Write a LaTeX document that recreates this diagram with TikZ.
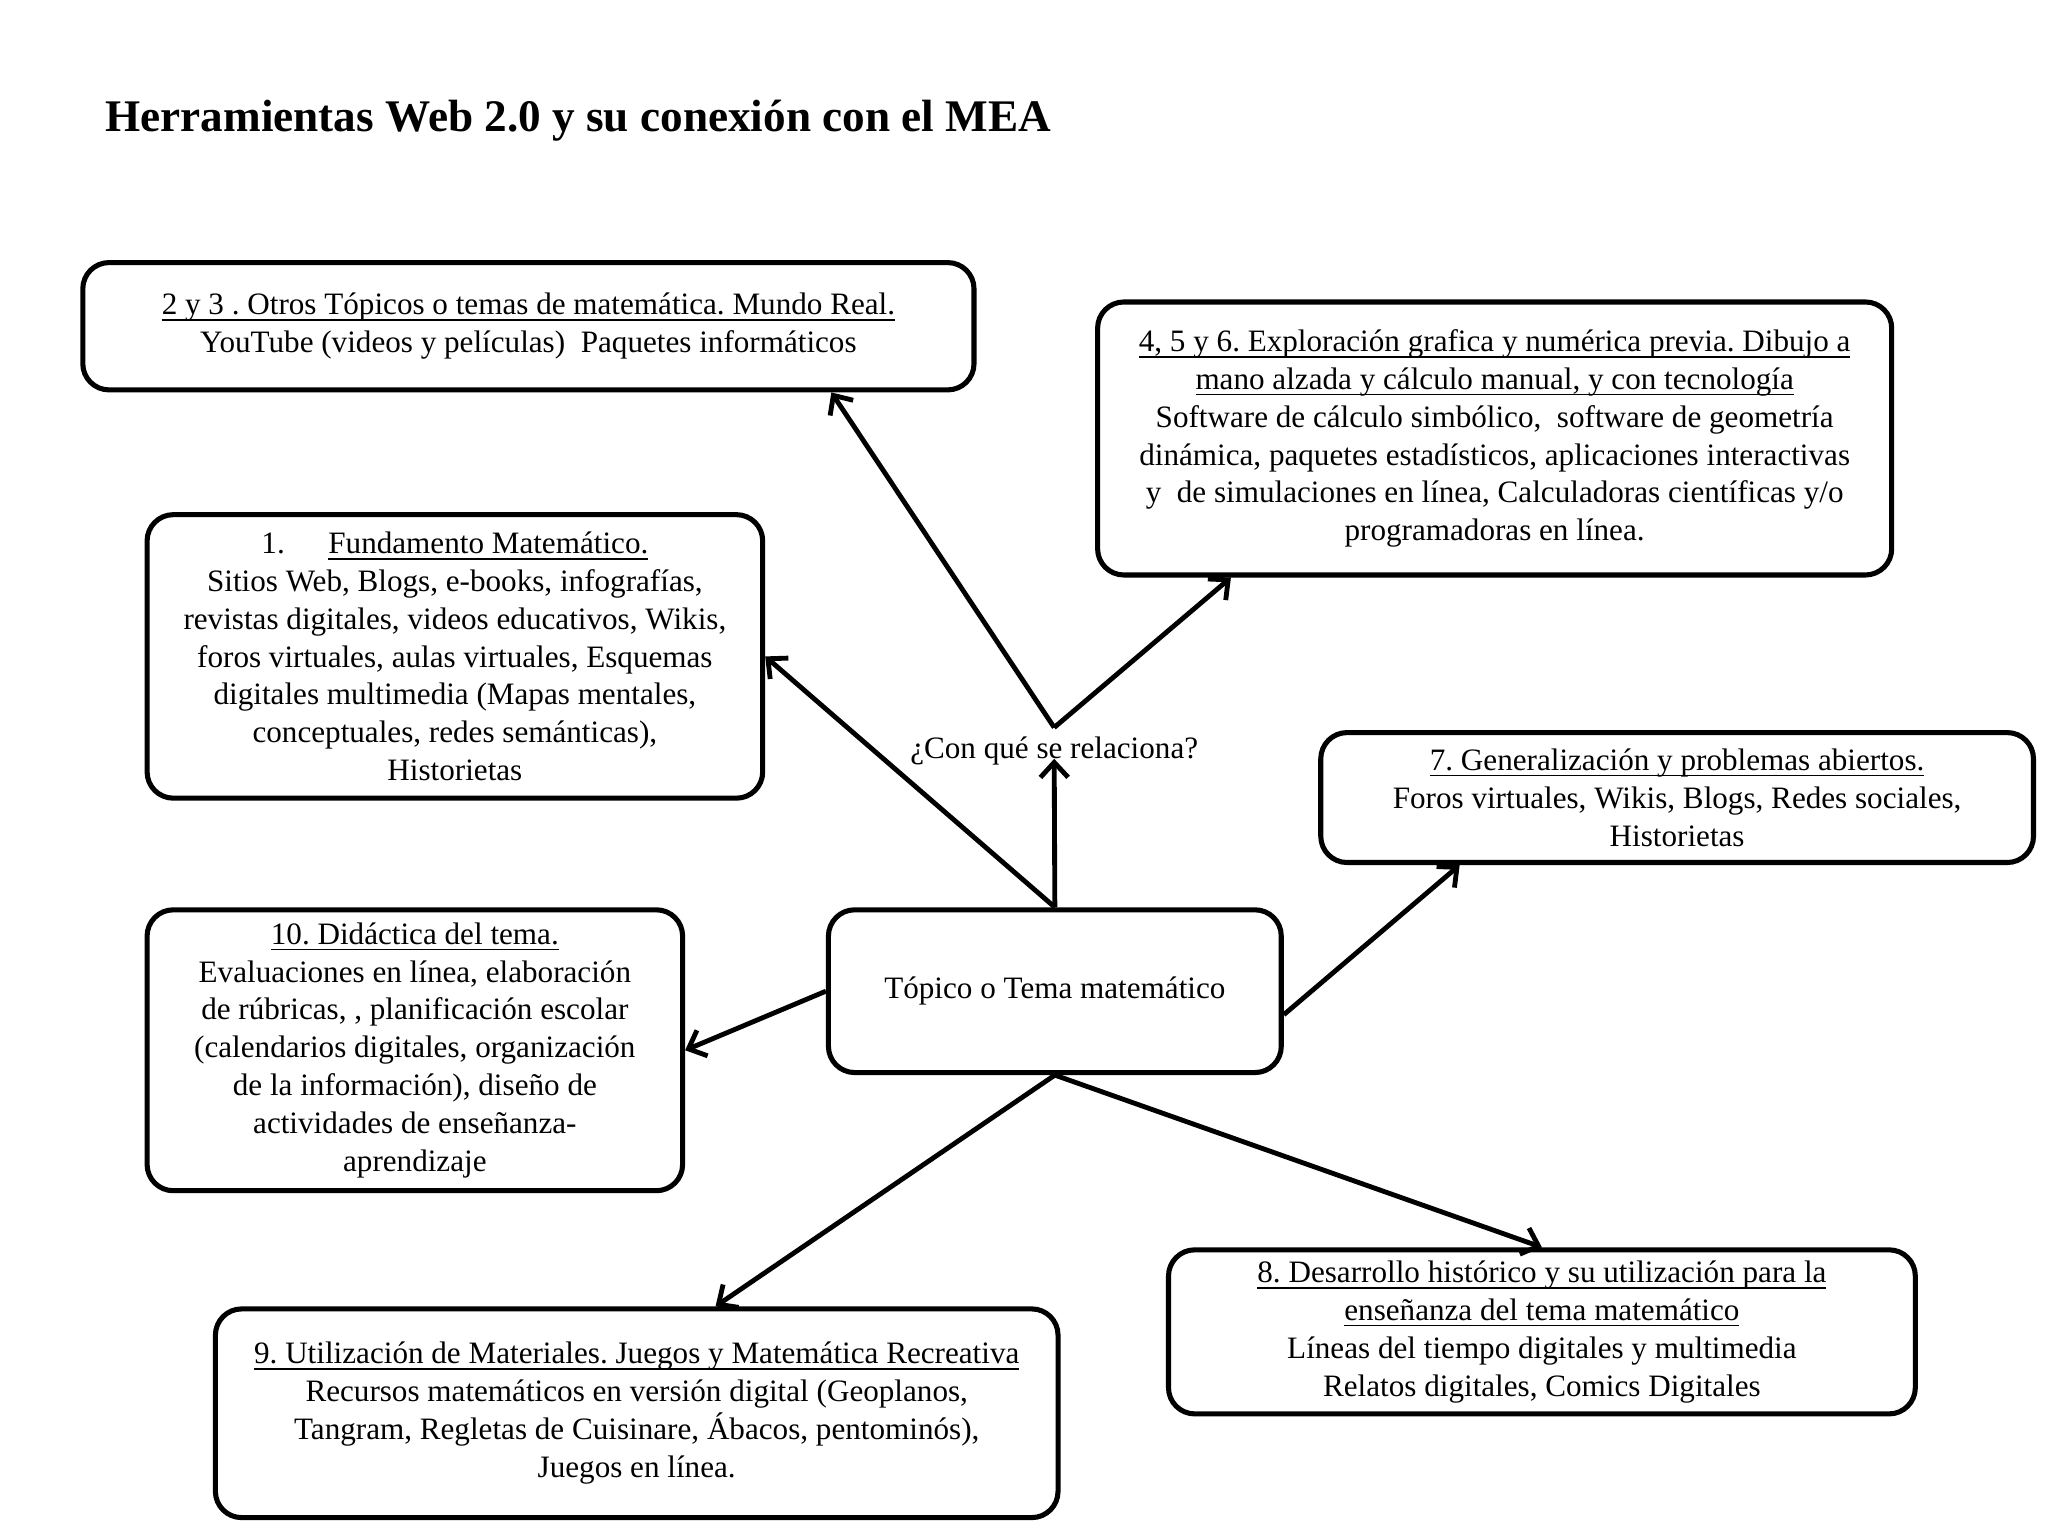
\documentclass[tikz,border=0pt]{standalone}
\usepackage{fontspec}
\setmainfont{Liberation Serif}
\usepackage{tikz}
\usetikzlibrary{arrows.meta,calc}
\frenchspacing
\newsavebox{\ulnbox}
\newcommand{\uln}[1]{\sbox{\ulnbox}{#1}\rlap{\vrule height -1.9pt depth 2.6pt width \wd\ulnbox}\usebox{\ulnbox}}
\tikzset{
  mapbox/.style={draw, line width=2.2pt, rounded corners=0.4cm,
    align=center, inner sep=0pt, font=\fontsize{13.5}{16.4}\selectfont},
  link/.style={-{Straight Barb[length=6.5pt,width=12pt]}, line width=2.1pt}
}

\begin{document}
\begin{tikzpicture}[x=0.02cm, y=0.02cm]
                \useasboundingbox (0,0) rectangle (1560,-1170);

                %title
                \node[anchor=base west, inner sep=0pt, font=\fontsize{19.6}{23}\selectfont\bfseries] (title) at (80,-100)
                    {Herramientas Web 2.0 y su conexi\'on con el MEA};

                %central topic
                \node[mapbox, minimum width=6.9cm, minimum height=2.48cm] (topic) at (803.5,-755)
                    {Tópico o Tema matemático};

                %question over the topic
                \node[inner sep=0pt, anchor=base, font=\fontsize{13.5}{16.4}\selectfont] (rel) at (803,-578)
                    {¿Con qué se relaciona?};
                \coordinate (fork) at ($(rel.north)+(0,7)$);

                %upper boxes
                \node[mapbox, minimum width=13.58cm, minimum height=1.94cm] (otros) at (402.5,-248.5)
                    {\uln{2 y 3 . Otros Tópicos o temas de matemática. Mundo Real.}\\
                     YouTube (videos y películas)\ \ Paquetes informáticos};

                \node[mapbox, minimum width=12.1cm, minimum height=4.16cm] (explora) at (1138.5,-334)
                    {\uln{4, 5 y 6. Exploración grafica y numérica previa. Dibujo a}\\
                     \uln{mano alzada y cálculo manual, y con tecnología}\\
                     Software de cálculo simbólico,\ \ software de geometría\\
                     dinámica, paquetes estadísticos, aplicaciones interactivas\\
                     y\ \ de simulaciones en línea, Calculadoras científicas y/o\\
                     programadoras en línea.};

                \node[mapbox, minimum width=9.38cm, minimum height=4.32cm] (fund) at (346.5,-500)
                    {1.\hspace{1.4em}\uln{Fundamento Matemático.}\\
                     Sitios Web, Blogs, e-books, infografías,\\
                     revistas digitales, videos educativos, Wikis,\\
                     foros virtuales, aulas virtuales, Esquemas\\
                     digitales multimedia (Mapas mentales,\\
                     conceptuales, redes semánticas),\\
                     Historietas};

                \node[mapbox, minimum width=10.86cm, minimum height=1.98cm] (gener) at (1277.5,-607.5)
                    {\uln{7. Generalización y problemas abiertos.}\\
                     Foros virtuales, Wikis, Blogs, Redes sociales,\\
                     Historietas};

                %lower boxes
                \node[mapbox, minimum width=8.16cm, minimum height=4.28cm] (didac) at (316,-800)
                    {\uln{10. Didáctica del tema.}\\
                     Evaluaciones en línea, elaboración\\
                     de rúbricas, , planificación escolar\\
                     (calendarios digitales, organización\\
                     de la información), diseño de\\
                     actividades de enseñanza-\\
                     aprendizaje};

                \node[mapbox, minimum width=11.38cm, minimum height=2.5cm] (hist) at (1174.5,-1014.5)
                    {\uln{8. Desarrollo histórico y su utilización para la}\\
                     \uln{enseñanza del tema matemático}\\
                     Líneas del tiempo digitales y multimedia\\
                     Relatos digitales, Comics Digitales};

                \node[mapbox, minimum width=12.84cm, minimum height=3.18cm] (materia) at (485,-1076.5)
                    {\uln{9. Utilización de Materiales. Juegos y Matemática Recreativa}\\
                     Recursos matemáticos en versión digital (Geoplanos,\\
                     Tangram, Regletas de Cuisinare, Ábacos, pentominós),\\
                     Juegos en línea.};

                %arrows out of the topic
                \draw[link] (topic.north) -- (rel.base);
                \draw[link] (topic.north) -- (fund.east);
                \draw[link] (topic.west) -- (didac.east);
                \draw[link] ($(topic.north east)!0.64!(topic.south east)$)
                    -- ($(gener.south west)!0.197!(gener.south east)$);
                \draw[link] (topic.south) -- ($(materia.north west)!0.593!(materia.north east)$);
                \draw[link] (topic.south) -- (hist.north);

                %arrows out of the question
                \draw[link] (fork) -- ($(otros.south west)!0.838!(otros.south east)$);
                \draw[link] (fork) -- ($(explora.south west)!0.17!(explora.south east)$);
            \end{tikzpicture}
\end{document}
